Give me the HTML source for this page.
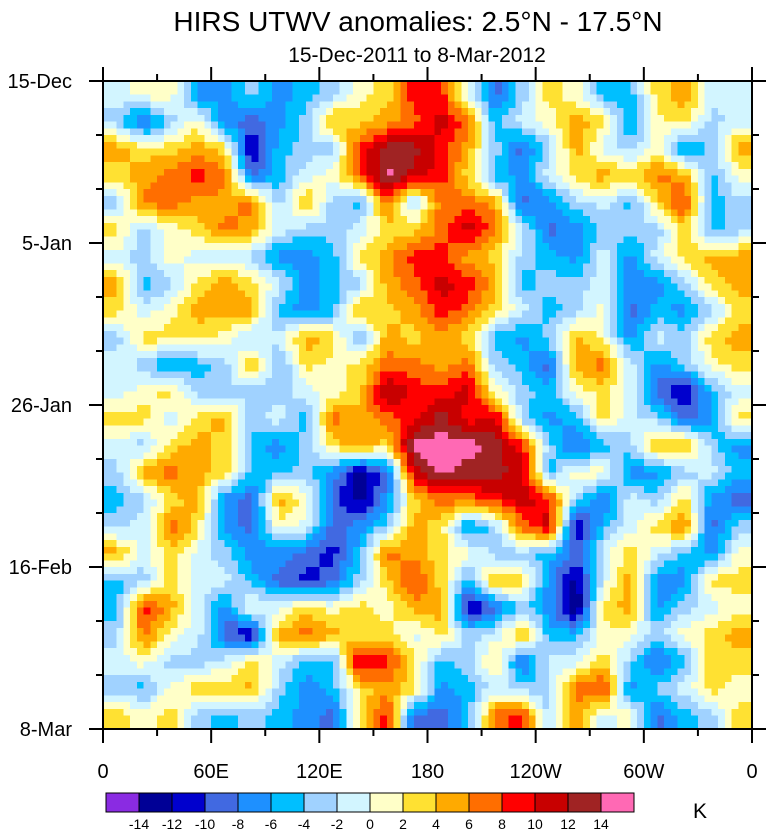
<!DOCTYPE html>
<html><head><meta charset="utf-8">
<style>
body{margin:0;background:#fff;width:770px;height:830px;overflow:hidden;font-family:"Liberation Sans",sans-serif}
svg{display:block}
</style></head>
<body>
<svg id="chart" width="770" height="830" xmlns="http://www.w3.org/2000/svg">
<text x="418" y="31" text-anchor="middle" font-size="28">HIRS UTWV anomalies: 2.5°N - 17.5°N</text>
<text x="417" y="62" text-anchor="middle" font-size="21">15-Dec-2011 to 8-Mar-2012</text>
<g id="cells" shape-rendering="crispEdges"></g>
<g id="axes"></g>
<g id="cbar"></g>
<text x="693" y="818" font-size="21">K</text>
</svg>
<script>
const lonCenters = [7.5,22.5,37.5,52.5,67.5,82.5,97.5,112.5,127.5,142.5,157.5,172.5,187.5,202.5,217.5,232.5,247.5,262.5,277.5,292.5,307.5,322.5,337.5,352.5];
const dayCenters = [1.75,5.25,8.75,12.25,15.75,19.25,22.75,26.25,29.75,33.25,36.75,40.25,43.75,47.25,50.75,54.25,57.75,61.25,64.75,68.25,71.75,75.25,78.75,82.25];
const levels = [-14,-12,-10,-8,-6,-4,-2,0,2,4,6,8,10,12,14];
const levelLabels = ["-14","-12","-10","-8","-6","-4","-2","0","2","4","6","8","10","12","14"];
const xTickLabels = ["0","60E","120E","180","120W","60W","0"];
const xTickLons = [0,60,120,180,240,300,360];
const yTickLabels = ["15-Dec","5-Jan","26-Jan","16-Feb","8-Mar"];
const yTickDays = [0,21,42,63,84];
const values = [
[-1,1,1,-7,-7,-3,-7,-5,-3,1,3,9, 9,-1,-9,-3,3,1,-5,-5,3,5,-1,-1],
[-3,-9,-3,1,-7,-9,-7,-3,5,3,5,7, 11,7,-5,-1,1,5,3,-7,1,3,-3,-1],
[5,3,3,5,3,-13,-5,-3,-3,9,13,13, 9,5,-3,-9,-3,5,-1,-3,1,-7,-3,5],
[3,5,7,9,7,-9,-5,-1,1,7,15,11, 9,3,-5,-7,-1,3,5,3,7,5,-5,1],
[-3,7,7,5,5,7,-3,5,-3,-5,7,-3, 7,7,5,-9,-7,-3,-1,-5,3,9,-5,-3],
[3,-3,1,3,7,5,-1,-3,-3,-1,3,3, 7,11,7,-1,-9,-7,-3,-3,-3,3,-5,-3],
[-1,-3,1,-1,-1,-3,-7,-7,-5,3,5,9, 9,5,3,-3,-5,-7,-1,-7,-1,3,5,5],
[5,-5,-3,3,5,3,-1,-7,-5,-3,5,7, 11,9,5,-5,-3,-3,-1,-7,-7,-3,3,5],
[3,-1,1,5,5,5,-5,-7,-5,5,3,5, 9,7,3,-1,-5,-3,1,-9,-5,-7,-3,3],
[-3,3,3,3,1,-3,-1,5,3,-5,5,3, 5,3,-5,-7,-3,5,1,-7,-1,-3,3,5],
[-1,-3,-7,-5,-3,5,-5,3,1,3,7,7, 5,7,-3,-5,-9,5,7,-1,-7,-3,1,3],
[-1,1,3,-3,-3,-3,-3,-1,1,3,13,9, 9,11,1,-3,-5,1,3,-1,-9,-13,-5,-1],
[3,3,-1,3,5,-3,-1,-5,7,5,7,9, 13,9,11,-3,-7,-5,3,-1,-3,-9,-7,3],
[-1,-3,3,5,3,-5,-7,-3,3,5,3,15, 15,15,13,9,-3,-9,-5,-3,5,5,-3,-7],
[-3,5,7,5,3,-5,-5,-3,-7,-13,-9,11, 15,13,13,11,-5,1,1,-7,-7,-3,-1,-5],
[-5,-3,3,5,-7,-9,5,1,-9,-13,-7,3, 7,7,9,11,9,-3,-9,-1,-3,3,-7,-9],
[-3,-1,7,3,-7,-9,1,-1,-9,-7,-3,5, 3,-7,-3,7,11,-13,-5,-1,3,7,-9,-3],
[5,-1,3,-1,-3,-7,-7,-9,-11,-5,7,5, 3,1,-3,-3,-5,-9,-1,3,-1,-5,-7,1],
[-5,-3,3,-1,-1,-5,-9,-11,-9,-3,3,9, 3,-5,5,3,-7,-13,-1,5,-7,-7,3,3],
[-5,9,5,-1,-7,1,-1,3,1,3,1,5, 5,-13,-9,-3,-7,-15,3,5,-7,-3,-1,1],
[-3,7,1,-1,-9,-13,5,7,5,3,3,-1, 3,-3,-1,5,-5,-5,1,1,-3,1,3,5],
[-1,1,-3,-3,-1,3,-1,-5,-5,11,9,3, -5,-3,3,-9,-1,-1,3,-3,-9,-5,3,3],
[-3,-5,1,3,3,5,-3,-7,-5,3,5,3, -7,-5,-1,-3,-3,7,9,-7,-3,-1,3,1],
[3,1,3,-3,-5,-3,-5,-7,-9,3,9,-9, -9,-5,7,9,-3,5,-1,1,-9,-5,-3,3]
];
const colors = ["#8a2be2","#000096","#0000cd","#4169e1","#1e90ff","#00bfff","#a0d2ff","#d2f5ff","#ffffc8","#ffe132","#ffaa00","#ff6e00","#ff0000","#c80000","#a02323","#ff69b4"];

const PL=103, PR=752, PT=81, PB=729;
const xScale = lon => PL + lon/360*(PR-PL);
const yScale = d => PT + d/84*(PB-PT);
const dLon = 15, dDay = 3.5, SUB = 4;
function colorFor(v){let i=0;while(i<levels.length && v>=levels[i]) i++;return colors[i];}
function frac(arr,v){const n=arr.length;const step=arr[1]-arr[0];let f=(v-arr[0])/step;if(f<0)f=0;if(f>n-1)f=n-1;return f;}
function sample(lon,day){
  const fx=frac(lonCenters,lon), fy=frac(dayCenters,day);
  const c0=Math.floor(fx), r0=Math.floor(fy);
  const c1=Math.min(c0+1,lonCenters.length-1), r1=Math.min(r0+1,dayCenters.length-1);
  const tx=fx-c0, ty=fy-r0;
  const a=values[r0][c0]*(1-tx)+values[r0][c1]*tx;
  const b=values[r1][c0]*(1-tx)+values[r1][c1]*tx;
  return a*(1-ty)+b*ty;
}
const NS="http://www.w3.org/2000/svg";
const cells=document.getElementById('cells');
const nx=lonCenters.length*SUB, ny=dayCenters.length*SUB;
const sLon=360/nx, sDay=84/ny;
for(let r=0;r<ny;r++){
  for(let c=0;c<nx;c++){
    const lon=(c+0.5)*sLon, day=(r+0.5)*sDay;
    const x0=xScale(c*sLon), x1=xScale((c+1)*sLon);
    const y0=yScale(r*sDay), y1=yScale((r+1)*sDay);
    const rc=document.createElementNS(NS,'rect');
    rc.setAttribute('x',x0);rc.setAttribute('y',y0);
    rc.setAttribute('width',x1-x0+0.6);rc.setAttribute('height',y1-y0+0.6);
    rc.setAttribute('fill',colorFor(sample(lon,day)));
    
    
    cells.appendChild(rc);
  }
}
const axes=document.getElementById('axes');
function line(x1,y1,x2,y2,w,name){const l=document.createElementNS(NS,'line');
 l.setAttribute('x1',x1);l.setAttribute('y1',y1);l.setAttribute('x2',x2);l.setAttribute('y2',y2);
 l.setAttribute('stroke','#000');l.setAttribute('stroke-width',w);
 
 
 axes.appendChild(l);}
function text(x,y,s,anchor,size,name){const t=document.createElementNS(NS,'text');
 t.setAttribute('x',x);t.setAttribute('y',y);t.setAttribute('text-anchor',anchor);t.setAttribute('font-size',size);
 t.textContent=s;
 
 
 axes.appendChild(t);}
const fr=document.createElementNS(NS,'rect');
fr.setAttribute('x',PL);fr.setAttribute('y',PT);fr.setAttribute('width',PR-PL);fr.setAttribute('height',PB-PT);
fr.setAttribute('fill','none');fr.setAttribute('stroke','#000');fr.setAttribute('stroke-width','2');


axes.appendChild(fr);
for(let lon=0;lon<=360;lon+=30){const major=lon%60===0;const len=major?14:7;const x=xScale(lon);
 line(x,PB,x,PB+len,2,'x-tick');line(x,PT,x,PT-len,2,'x-tick-top');}
xTickLabels.forEach((s,i)=>text(xScale(xTickLons[i]),778,s,'middle',20,'x-tick-label'));
for(let d=0;d<=84;d+=7){const major=d%21===0;const len=major?14:7;const y=yScale(d);
 line(PL,y,PL-len,y,2,'y-tick');line(PR,y,PR+len,y,2,'y-tick-right');}
yTickLabels.forEach((s,i)=>text(72,yScale(yTickDays[i])+7,s,'end',20,'y-tick-label'));
const cb=document.getElementById('cbar');
const CBL=106, CBW=33, CBT=793, CBH=19;
colors.forEach((col,i)=>{const r=document.createElementNS(NS,'rect');
 r.setAttribute('x',CBL+i*CBW);r.setAttribute('y',CBT);r.setAttribute('width',CBW);r.setAttribute('height',CBH);
 r.setAttribute('fill',col);r.setAttribute('stroke','#000');r.setAttribute('stroke-width','1');
 
 
 cb.appendChild(r);});
levelLabels.forEach((s,i)=>{const t=document.createElementNS(NS,'text');
 t.setAttribute('x',CBL+(i+1)*CBW);t.setAttribute('y',829);t.setAttribute('text-anchor','middle');t.setAttribute('font-size','14');
 t.textContent=s;
 
 
 cb.appendChild(t);});
</script>
</body></html>
